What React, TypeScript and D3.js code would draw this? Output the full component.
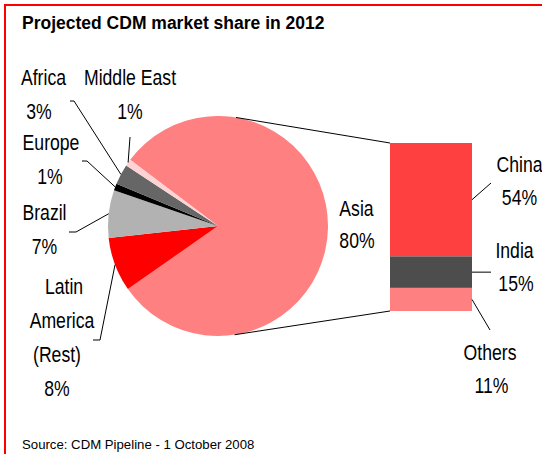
import React from "react";
import * as d3 from "d3";

// ---- data ----
const regionNames = ["Asia", "Latin America (Rest)", "Brazil", "Europe", "Africa", "Middle East"];
const regionShares = [80, 8, 7, 1, 3, 1];
const regionColors = ["#FF8080", "#FF0000", "#B2B2B2", "#000000", "#666666", "#FFD3D3"];

const asiaNames = ["China", "India", "Others"];
const asiaShares = [54, 15, 11];
const asiaColors = ["#FF4040", "#4D4D4D", "#FF8080"];

const title = "Projected CDM market share in 2012";
const source = "Source: CDM Pipeline - 1 October 2008";

// ---- layout ----
const W = 542, H = 454;
const cx = 218, cy = 226, R = 110;
const deg = Math.PI / 180;
const startA = -53 * deg;
const barX0 = 390, barX1 = 472, barTop = 143, barBottom = 311;
const fs = 21.5, sx = 0.82, lineGap = 34;

// label anchors for pie slices (index = region index); lines split label text
const pieLabelLayout: Record<string, { lines: string[]; xs: number[]; y: number; elbow?: [number, number][] }> = {
  Asia: { lines: ["Asia"], xs: [356.5, 357], y: 216 },
  "Latin America (Rest)": { lines: ["Latin", "America", "(Rest)"], xs: [64, 62, 57, 57], y: 294, elbow: [[100, 340], [93, 340]] },
  Brazil: { lines: ["Brazil"], xs: [44.5, 44.5], y: 220, elbow: [[76, 232], [69, 232]] },
  Europe: { lines: ["Europe"], xs: [51, 50], y: 150, elbow: [[87, 161], [82, 161]] },
  Africa: { lines: ["Africa"], xs: [43.5, 39], y: 85, elbow: [[74, 101], [70, 101]] },
  "Middle East": { lines: ["Middle East"], xs: [130, 130], y: 85, elbow: [[130, 137]] },
};
const barLabelLayout: Record<string, { xs: number[]; y: number; elbow: [number, number] }> = {
  China: { xs: [519.5, 519.5], y: 172, elbow: [491, 183] },
  India: { xs: [514.5, 516], y: 258, elbow: [491, 0] },
  Others: { xs: [490, 491.5], y: 360, elbow: [490, 330] },
};

function Lbl({ x, y, t }: { x: number; y: number; t: string }) {
  return (
    <text transform={`translate(${x},${y}) scale(${sx},1)`} textAnchor="middle" fontSize={fs}
      fontFamily="'Liberation Sans', Arial, Helvetica, sans-serif" fill="#000">{t}</text>
  );
}

function tangentPoint(px: number, py: number, sign: number) {
  const dx = px - cx, dy = py - cy;
  const d = Math.hypot(dx, dy);
  const a = Math.atan2(dx, -dy); // d3 angle (clockwise from 12 o'clock)
  const t = a + sign * Math.acos(R / d);
  return [cx + R * Math.sin(t), cy - R * Math.cos(t)];
}

export default function App() {
  const pie = d3.pie<number>().sort(null).startAngle(startA).endAngle(startA + 2 * Math.PI);
  const arcs = pie(regionShares);
  const arcGen = d3.arc<d3.PieArcDatum<number>>().innerRadius(0).outerRadius(R);

  const total = d3.sum(asiaShares);
  const yScale = d3.scaleLinear().domain([0, total]).range([barTop, barBottom]);
  const cum = d3.cumsum(asiaShares);
  const starts = asiaShares.map((v, i) => cum[i] - v);

  const tTop = tangentPoint(barX0, barTop, -1);
  const tBot = tangentPoint(barX0, barBottom, 1);

  return (
    <svg width={W} height={H} style={{ position: "absolute", left: 0, top: 0, display: "block", background: "#fff" }}>
      <rect x={0} y={0} width={W} height={H} fill="#fff" />
      <path d={`M5,${H} V5 H${W}`} fill="none" stroke="#FF0000" strokeWidth={2} />
      <text x={22} y={29} fontSize={17.5} fontWeight="bold" fontFamily="'Liberation Sans', Arial, Helvetica, sans-serif">{title}</text>

      <g transform={`translate(${cx},${cy})`}>
        {arcs.map((a, i) => (
          <path key={i} d={arcGen(a) || ""} fill={regionColors[i]} />
        ))}
      </g>

      {/* connector lines pie -> bar */}
      <line x1={tTop[0]} y1={tTop[1]} x2={barX0} y2={barTop} stroke="#000" strokeWidth={1} />
      <line x1={tBot[0]} y1={tBot[1]} x2={barX0} y2={barBottom} stroke="#000" strokeWidth={1} />

      {/* bar of pie */}
      {asiaShares.map((v, i) => (
        <rect key={i} x={barX0} width={barX1 - barX0} y={yScale(starts[i])} height={yScale(cum[i]) - yScale(starts[i])} fill={asiaColors[i]} />
      ))}

      {/* pie labels */}
      {arcs.map((a, i) => {
        const name = regionNames[i];
        const L = pieLabelLayout[name];
        const mid = (a.startAngle + a.endAngle) / 2;
        const ex = cx + R * Math.sin(mid), ey = cy - R * Math.cos(mid);
        const lines = [...L.lines, `${regionShares[i]}%`];
        return (
          <g key={i}>
            {L.elbow && (
              <polyline points={[[ex, ey], ...L.elbow].map((p) => p.join(",")).join(" ")} fill="none" stroke="#000" strokeWidth={1} />
            )}
            {lines.map((t, j) => (
              <Lbl key={j} x={L.xs[j]} y={L.y + j * (name === "Asia" ? 32 : lineGap)} t={t} />
            ))}
          </g>
        );
      })}

      {/* bar labels */}
      {asiaShares.map((v, i) => {
        const name = asiaNames[i];
        const L = barLabelLayout[name];
        const my = (yScale(starts[i]) + yScale(cum[i])) / 2;
        const ey = L.elbow[1] === 0 ? my : L.elbow[1];
        return (
          <g key={i}>
            <line x1={barX1} y1={my} x2={L.elbow[0]} y2={ey} stroke="#000" strokeWidth={1} />
            <Lbl x={L.xs[0]} y={L.y} t={name} />
            <Lbl x={L.xs[1]} y={L.y + 33} t={`${v}%`} />
          </g>
        );
      })}

      <text x={22} y={448.5} fontSize={13.2} fontFamily="'Liberation Sans', Arial, Helvetica, sans-serif">{source}</text>
    </svg>
  );
}
